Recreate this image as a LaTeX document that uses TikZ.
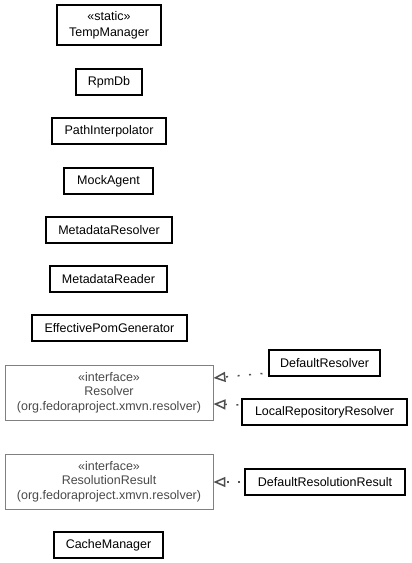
\documentclass[tikz,border=0pt]{standalone}
\usepackage{fontspec}
\setmainfont{Liberation Sans}
\usetikzlibrary{arrows.meta}
\definecolor{ifcborder}{HTML}{808080}
\definecolor{ifctext}{HTML}{4A4A4A}
\definecolor{relcol}{HTML}{505050}
\begin{document}
\begin{tikzpicture}[x=1pt,y=-1pt,
  cls/.style={draw=black, line width=1.1pt, fill=white, inner sep=0pt,
    minimum height=26pt, font=\fontsize{12.5}{16}\selectfont, align=center},
  ifc/.style={draw=ifcborder, line width=0.9pt, fill=white, inner sep=0pt,
    text=ifctext, minimum width=208pt, minimum height=55pt,
    font=\fontsize{12.5}{14.7}\selectfont, align=center},
  real/.style={draw=relcol, line width=1.5pt, dash pattern=on 2pt off 9.5pt,
    -{Triangle[open, length=12pt, width=10pt, fill=white]}}
]
\useasboundingbox (0,0) rectangle (412,563);

\node[cls, minimum width=104pt, minimum height=40pt] (temp) at (109,25) {«static»\\TempManager};
\node[cls, minimum width=66pt] (rpm) at (109,82) {RpmDb};
\node[cls, minimum width=114pt] (path) at (109,131) {PathInterpolator};
\node[cls, minimum width=89pt] (mock) at (108.5,181) {MockAgent};
\node[cls, minimum width=126pt] (mres) at (109,230) {MetadataResolver};
\node[cls, minimum width=117pt] (mread) at (108.5,279) {MetadataReader};
\node[cls, minimum width=155pt] (epg) at (109.5,328) {EffectivePomGenerator};

\node[ifc] (resolver) at (109,392.5) {«interface»\\Resolver\\(org.fedoraproject.xmvn.resolver)};
\node[cls, minimum width=111pt] (defres) at (324.5,363) {DefaultResolver};
\node[cls, minimum width=165pt] (localres) at (324.5,412) {LocalRepositoryResolver};

\node[ifc] (result) at (109,481.5) {«interface»\\ResolutionResult\\(org.fedoraproject.xmvn.resolver)};
\node[cls, minimum width=160pt] (defresult) at (325,482) {DefaultResolutionResult};

\node[cls, minimum width=109pt] (cache) at (108.5,545) {CacheManager};

\draw[real, shorten <=6pt] ([yshift=-10pt]defres.west) -- ([yshift=14.5pt]resolver.east);
\draw[real, shorten <=3pt] ([yshift=7pt]localres.west) -- ([yshift=-11.5pt]resolver.east);
\draw[real, shorten <=4pt] (defresult.west) -- (defresult.west -| result.east);
\end{tikzpicture}
\end{document}
